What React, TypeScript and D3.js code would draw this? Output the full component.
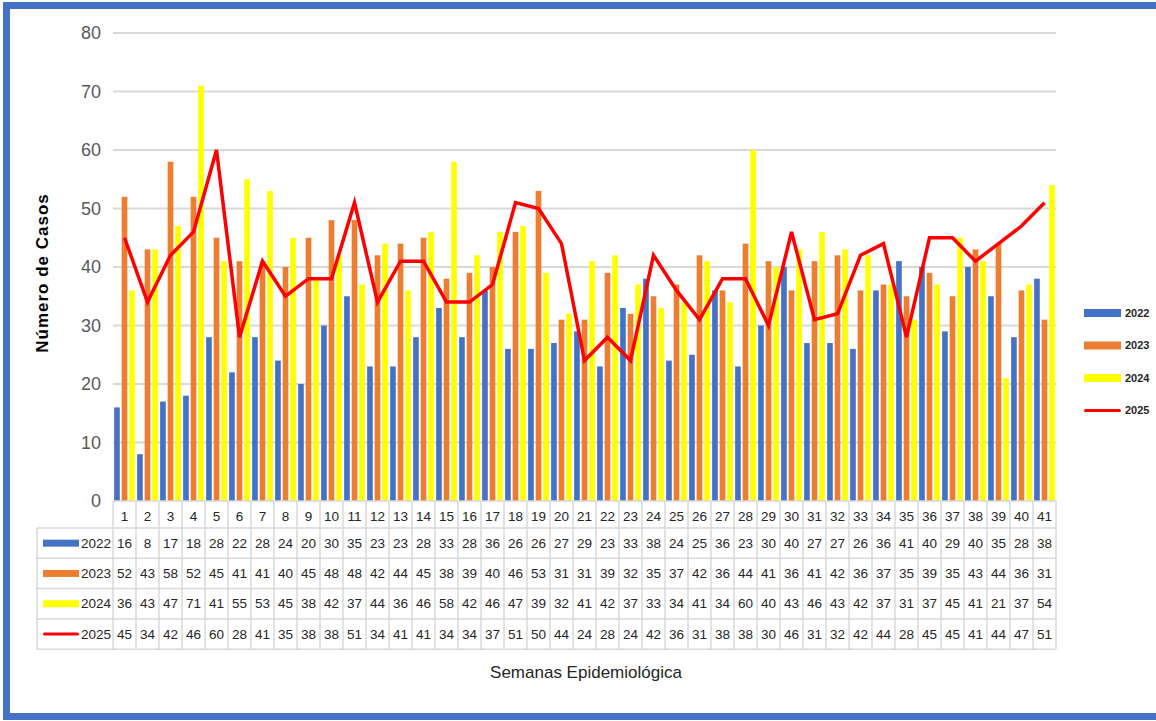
import React from 'react';
import { scaleBand, scaleLinear, line } from 'd3';

const weeks = Array.from({ length: 41 }, (_, i) => String(i + 1));
const years = ['2022', '2023', '2024', '2025'];
const barYears = ['2022', '2023', '2024'];

const cases2022 = [16, 8, 17, 18, 28, 22, 28, 24, 20, 30, 35, 23, 23, 28, 33, 28, 36, 26, 26, 27, 29, 23, 33, 38, 24, 25, 36, 23, 30, 40, 27, 27, 26, 36, 41, 40, 29, 40, 35, 28, 38];
const cases2023 = [52, 43, 58, 52, 45, 41, 41, 40, 45, 48, 48, 42, 44, 45, 38, 39, 40, 46, 53, 31, 31, 39, 32, 35, 37, 42, 36, 44, 41, 36, 41, 42, 36, 37, 35, 39, 35, 43, 44, 36, 31];
const cases2024 = [36, 43, 47, 71, 41, 55, 53, 45, 38, 42, 37, 44, 36, 46, 58, 42, 46, 47, 39, 32, 41, 42, 37, 33, 34, 41, 34, 60, 40, 43, 46, 43, 42, 37, 31, 37, 45, 41, 21, 37, 54];
const cases2025 = [45, 34, 42, 46, 60, 28, 41, 35, 38, 38, 51, 34, 41, 41, 34, 34, 37, 51, 50, 44, 24, 28, 24, 42, 36, 31, 38, 38, 30, 46, 31, 32, 42, 44, 28, 45, 45, 41, 44, 47, 51];
const yTicks = [0, 10, 20, 30, 40, 50, 60, 70, 80];

const seriesByYear: Record<string, number[]> = {
  '2022': cases2022,
  '2023': cases2023,
  '2024': cases2024,
  '2025': cases2025,
};

const colors: Record<string, string> = {
  '2022': '#4472C4',
  '2023': '#ED7D31',
  '2024': '#FFFF00',
  '2025': '#FF0000',
};

const width = 1156;
const height = 721;
const plot = { left: 113, right: 1056, top: 33, bottom: 501 };
const rowH = 30.3;
const headerH = 27;
const labelLeft = 37;
const narrow = "'Liberation Sans Narrow', 'Arial Narrow', 'Liberation Sans', Arial, sans-serif";

function App() {
  const x = scaleBand().domain(weeks).range([plot.left, plot.right]).padding(0);
  const inner = scaleBand()
    .domain(barYears)
    .range([0, x.bandwidth()])
    .paddingInner(0.25)
    .paddingOuter(0.15);
  const y = scaleLinear().domain([0, 80]).range([plot.bottom, plot.top]);

  const lineGen = line<number>()
    .x((_, i) => x(weeks[i])! + x.bandwidth() / 2)
    .y(d => y(d));

  const tableTop = plot.bottom;
  const rowTop = (i: number) => tableTop + headerH + i * rowH;
  const tableBottom = rowTop(years.length);
  const gridColor = '#d9d9d9';

  return (
    <div style={{ position: 'absolute', left: 0, top: 0 }}>
      <svg width={width} height={height} style={{ display: 'block' }}>
        <rect x={0} y={0} width={width} height={height} fill="#fff" />

        {/* grid */}
        {yTicks.map(t => (
          <g key={t}>
            {t > 0 && (
              <line x1={plot.left} x2={plot.right} y1={y(t)} y2={y(t)} stroke={gridColor} strokeWidth={2} />
            )}
            <text
              x={101}
              y={y(t)}
              dy="0.35em"
              textAnchor="end"
              fontSize={18}
              fill="#595959"
              fontFamily={narrow}
            >
              {t}
            </text>
          </g>
        ))}

        {/* bars */}
        {barYears.map(yr =>
          seriesByYear[yr].map((v, i) => (
            <rect
              key={yr + i}
              x={x(weeks[i])! + inner(yr)!}
              y={y(v)}
              width={inner.bandwidth()}
              height={y(0) - y(v)}
              fill={colors[yr]}
            />
          ))
        )}

        {/* 2025 line */}
        <path d={lineGen(cases2025) ?? ''} fill="none" stroke={colors['2025']} strokeWidth={3.5} strokeLinejoin="miter" />

        {/* table */}
        <g fontFamily={narrow} fontSize={13.5} fill="#262626">
          <line x1={plot.left} x2={plot.right} y1={tableTop} y2={tableTop} stroke={gridColor} strokeWidth={1.5} />
          {weeks.map(w => (
            <text key={w} x={x(w)! + x.bandwidth() / 2} y={tableTop + headerH / 2 + 2} dy="0.35em" textAnchor="middle">
              {w}
            </text>
          ))}
          {weeks.map(w => (
            <line
              key={'v' + w}
              x1={x(w)!}
              x2={x(w)!}
              y1={tableTop}
              y2={tableBottom}
              stroke={gridColor}
              strokeWidth={1.5}
            />
          ))}
          <line x1={plot.right} x2={plot.right} y1={tableTop} y2={tableBottom} stroke={gridColor} strokeWidth={1.5} />
          <line x1={labelLeft} x2={labelLeft} y1={rowTop(0)} y2={tableBottom} stroke={gridColor} strokeWidth={1.5} />
          {years.map((yr, r) => (
            <g key={yr}>
              <line x1={labelLeft} x2={plot.right} y1={rowTop(r)} y2={rowTop(r)} stroke={gridColor} strokeWidth={1.5} />
              {yr === '2025' ? (
                <rect x={43} y={rowTop(r) + rowH / 2 - 1.5} width={36} height={3} rx={1.5} fill={colors[yr]} />
              ) : (
                <rect x={43} y={rowTop(r) + rowH / 2 - 3.5} width={36} height={7} fill={colors[yr]} />
              )}
              <text x={81} y={rowTop(r) + rowH / 2} dy="0.35em">
                {yr}
              </text>
              {seriesByYear[yr].map((v, i) => (
                <text
                  key={i}
                  x={x(weeks[i])! + x.bandwidth() / 2}
                  y={rowTop(r) + rowH / 2}
                  dy="0.35em"
                  textAnchor="middle"
                >
                  {v}
                </text>
              ))}
            </g>
          ))}
          <line x1={labelLeft} x2={plot.right} y1={tableBottom} y2={tableBottom} stroke={gridColor} strokeWidth={1.5} />
        </g>

        {/* legend */}
        <g fontFamily={narrow} fontSize={11} fill="#262626" fontWeight="bold">
          {years.map((yr, i) => {
            const cy = 313 + i * 32.5;
            return (
              <g key={yr}>
                {yr === '2025' ? (
                  <rect x={1084} y={cy - 1.5} width={37} height={3} rx={1.5} fill={colors[yr]} />
                ) : (
                  <rect x={1084} y={cy - 4} width={37} height={8} fill={colors[yr]} />
                )}
                <text x={1125} y={cy} dy="0.35em">
                  {yr}
                </text>
              </g>
            );
          })}
        </g>

        {/* axis titles */}
        <text
          transform="translate(48, 273) rotate(-90)"
          textAnchor="middle"
          fontFamily="'Liberation Sans', Arial, sans-serif"
          fontWeight="bold"
          fontSize={17}
          letterSpacing={1}
          fill="#000"
        >
          Número de Casos
        </text>
        <text
          x={586}
          y={672}
          dy="0.35em"
          textAnchor="middle"
          fontFamily={narrow}
          fontSize={17}
          fill="#262626"
        >
          Semanas Epidemiológica
        </text>

        {/* frame */}
        <rect x={6.5} y={5.5} width={width + 10} height={711} fill="none" stroke="#4472C4" strokeWidth={7} />
      </svg>
    </div>
  );
}

export default App;
